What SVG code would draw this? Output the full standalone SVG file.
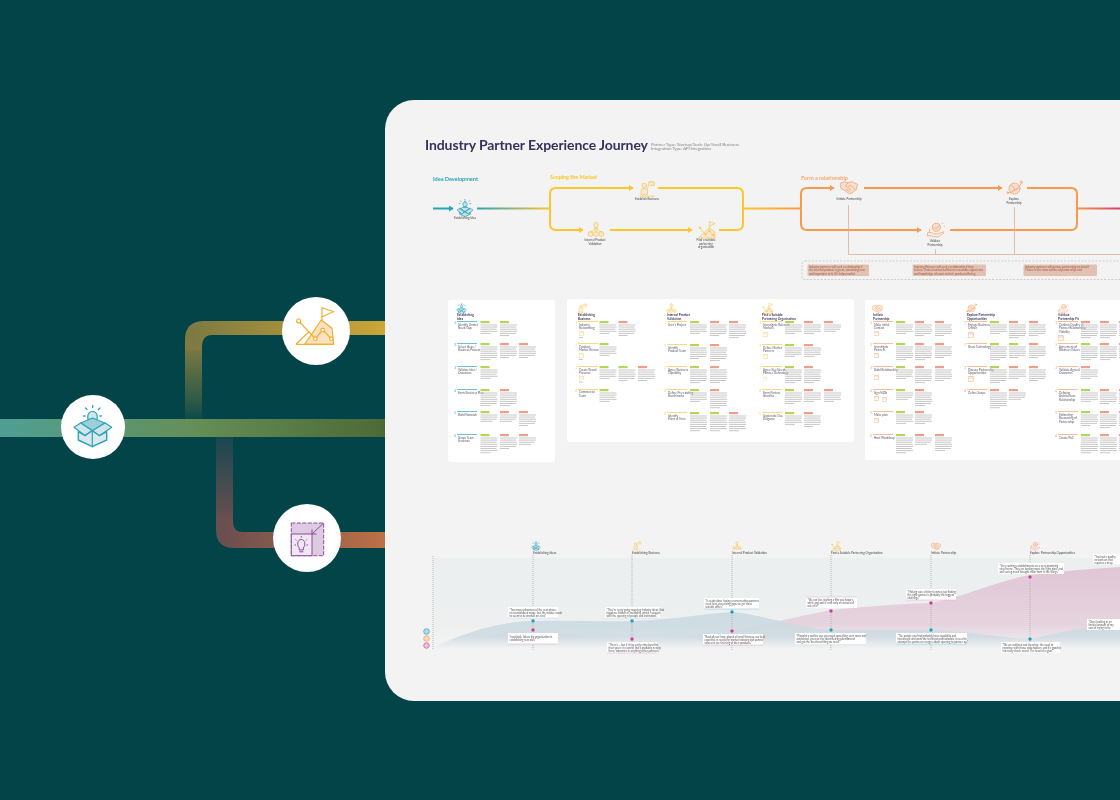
<svg xmlns="http://www.w3.org/2000/svg" width="1120" height="800" viewBox="0 0 1120 800">
<style>
text{font-family:"Lato","Open Sans","Liberation Sans",sans-serif}
.s{filter:url(#soft)}
.i{fill:none;stroke:currentColor;stroke-width:1.6;stroke-linejoin:round;stroke-linecap:round}
.f{fill:currentColor;fill-opacity:.22}
.teal{color:#2ba3b8}.yel{color:#f9c550}.ora{color:#f79a5b}.pur{color:#8e4a9e}.gold{color:#f7ad2e}
.lbl{font-size:3px;fill:#444;text-anchor:middle}
.sec{font-size:5.6px;font-weight:700}
.hd{font-size:3.2px;fill:#3b3a5c;font-weight:700}
.rt{font-size:3px;fill:#55556a}
.num{font-size:3px;text-anchor:middle}
.card{fill:#fff}
.qc{fill:#fff}
.q{font-size:2.7px;fill:#555}
.co{font-size:2.9px;fill:#a4593f}
.flow{fill:none;stroke-width:2}
.thin{fill:none;stroke:#dcae99;stroke-width:.8}
.dots{fill:none;stroke:#aaa;stroke-width:.8;stroke-dasharray:1 1}
.gl{fill:none;stroke:#c4c4c4;stroke-width:.95}
.tl{font-size:3px;fill:#444}
.pipe{fill:none}
</style>
<defs>
<filter id="soft" filterUnits="userSpaceOnUse" x="385" y="100" width="735" height="601"><feGaussianBlur stdDeviation=".3"/></filter>
<linearGradient id="pMain" gradientUnits="userSpaceOnUse" x1="0" y1="0" x2="385" y2="0"><stop offset="0" stop-color="#4f9f94"/><stop offset=".5" stop-color="#658f58"/><stop offset="1" stop-color="#4d6a36"/></linearGradient>
<linearGradient id="pUpV" gradientUnits="userSpaceOnUse" x1="0" y1="420" x2="0" y2="345"><stop offset="0" stop-color="#0a4a47"/><stop offset=".25" stop-color="#2d5a47"/><stop offset="1" stop-color="#7e7a42"/></linearGradient>
<linearGradient id="pUpH" gradientUnits="userSpaceOnUse" x1="193" y1="0" x2="385" y2="0"><stop offset="0" stop-color="#7e7a42"/><stop offset="1" stop-color="#cca638"/></linearGradient>
<linearGradient id="pLoV" gradientUnits="userSpaceOnUse" x1="0" y1="437" x2="0" y2="520"><stop offset="0" stop-color="#17484f"/><stop offset="1" stop-color="#6a4f50"/></linearGradient>
<linearGradient id="pLoH" gradientUnits="userSpaceOnUse" x1="224" y1="0" x2="385" y2="0"><stop offset="0" stop-color="#6a4f50"/><stop offset="1" stop-color="#bf7047"/></linearGradient>
<linearGradient id="fTY" gradientUnits="userSpaceOnUse" x1="477" y1="0" x2="550" y2="0"><stop offset="0" stop-color="#2ba3b8"/><stop offset="1" stop-color="#fcc72c"/></linearGradient>
<linearGradient id="fYO" gradientUnits="userSpaceOnUse" x1="743" y1="0" x2="801" y2="0"><stop offset="0" stop-color="#fcc72c"/><stop offset="1" stop-color="#f79a4b"/></linearGradient>
<linearGradient id="fOP" gradientUnits="userSpaceOnUse" x1="1077" y1="0" x2="1125" y2="0"><stop offset="0" stop-color="#f79a4b"/><stop offset="1" stop-color="#d6336c"/></linearGradient>
<linearGradient id="band" x1="0" y1="0" x2="0" y2="1"><stop offset="0" stop-color="#ebefef"/><stop offset=".75" stop-color="#eef0f0"/><stop offset="1" stop-color="#f3f3f3"/></linearGradient>
<linearGradient id="blueA" gradientUnits="userSpaceOnUse" x1="0" y1="610" x2="0" y2="648"><stop offset="0" stop-color="#c7d8e0"/><stop offset=".7" stop-color="#cddbe2"/><stop offset="1" stop-color="#f0f2f3"/></linearGradient>
<linearGradient id="pinkA" gradientUnits="userSpaceOnUse" x1="0" y1="570" x2="0" y2="648"><stop offset="0" stop-color="#e1c7d6"/><stop offset=".7" stop-color="#e5d4de"/><stop offset="1" stop-color="#f1eff1"/></linearGradient>
<marker id="aT" markerUnits="userSpaceOnUse" markerWidth="5" markerHeight="6" refX="4" refY="3" orient="auto"><path d="M0 0 4.500 3 0 6Z" fill="#2ba3b8"/></marker>
<marker id="aY" markerUnits="userSpaceOnUse" markerWidth="5" markerHeight="6" refX="4" refY="3" orient="auto"><path d="M0 0 4.500 3 0 6Z" fill="#fcc72c"/></marker>
<marker id="aO" markerUnits="userSpaceOnUse" markerWidth="5" markerHeight="6" refX="4" refY="3" orient="auto"><path d="M0 0 4.500 3 0 6Z" fill="#f79a4b"/></marker>

<symbol id="iBox" viewBox="0 0 40 40"><path class="i f" d="M20 6C15 6 14 13 17 16V19H23V16C26 13 25 6 20 6Z"/><path class="i" d="M20 1V3M10 4l2 2M30 4l-2 2M7 10h2M31 10h2"/><path class="i f" d="M9 22 20 16 31 22 20 28Z"/><path class="i f" d="M3 24 9 20 20 28 13 33ZM37 24 31 20 20 28 27 33Z"/><path class="i f" d="M8 29V34L20 39 32 34V29L27 33 20 28 13 33Z"/></symbol>
<symbol id="iBiz" viewBox="0 0 40 40"><circle class="i f" cx="14" cy="12" r="5"/><path class="i f" d="M7 32V22C7 18 21 18 21 22V32Z"/><path class="i" d="M21 20 25 4"/><path class="i f" d="M25 4H36V12H27"/><path class="i" d="M4 36H36"/></symbol>
<symbol id="iVal" viewBox="0 0 40 40"><path class="i f" d="M20 3C15 3 14 10 17 13V16H23V13C26 10 25 3 20 3Z"/><path class="i" d="M20 16 8 26M20 16V26M20 16 32 26"/><path class="i f" d="M8 23 13 26V32L8 35 3 32V26ZM20 23 25 26V32L20 35 15 32V26ZM32 23 37 26V32L32 35 27 32V26Z"/></symbol>
<symbol id="iMtn" viewBox="0 0 40 40"><path class="i f" d="M2 37 25 15 37 24 38 37Z"/><path class="i" d="M25 15V1L38 6 25 11M4 15 17 30 25 22 33 31"/><circle class="i" cx="4" cy="15" r="2"/><circle class="i" cx="17" cy="30" r="2"/><circle class="i" cx="25" cy="22" r="2"/><circle class="i" cx="33" cy="31" r="2"/></symbol>
<symbol id="iHand" viewBox="0 0 40 40"><path class="i f" d="M1 12 10 8 18 11 26 8 39 14 36 26 24 35 18 33 9 27 3 24Z"/><path class="i" d="M18 11 12 17 16 20 23 16 33 25M14 25l6 5M18 22l7 6"/></symbol>
<symbol id="iGlobe" viewBox="0 0 40 40"><circle class="i f" cx="20" cy="20" r="13"/><path class="i" d="M4 30C14 32 32 18 36 8M11 13l7 3 2 7 7-2M14 28l5-5"/><circle class="i" cx="36" cy="5" r="2.500"/><circle class="i" cx="4" cy="30" r="2"/></symbol>
<symbol id="iChk" viewBox="0 0 40 40"><circle class="i f" cx="21" cy="14" r="9"/><path class="i" d="M16 14l4 4 6-7M2 26H10L16 29H24L36 24 38 26 26 35H14L10 33H2ZM34 4l2 2M38 12h1"/><path class="i" d="M6 18V24"/></symbol>
<symbol id="iMini" viewBox="0 0 10 10"><rect class="i" style="stroke-width:.8" x="1" y="1" width="8" height="8"/><path class="f" d="M1 1H9V5H1Z"/></symbol>

<path id="L4" class="gl" d="M0 4h17M0 6.100h17M0 8.200h16M0 10.300h12"/>
<path id="L5" class="gl" d="M0 4h17M0 6.100h17M0 8.200h16M0 10.300h17M0 12.400h10"/>
<path id="L6" class="gl" d="M0 4h17M0 6.100h16M0 8.200h17M0 10.300h17M0 12.400h16M0 14.500h9"/>
<path id="L7" class="gl" d="M0 4h17M0 6.100h17M0 8.200h16M0 10.300h17M0 12.400h17M0 14.500h16M0 16.600h10"/>
<path id="L8" class="gl" d="M0 4h17M0 6.100h17M0 8.200h16M0 10.300h17M0 12.400h17M0 14.500h16M0 16.600h17M0 18.700h10"/>
<rect id="TG" width="9" height="2.200" fill="#b2d656"/>
<rect id="TR" width="9" height="2.200" fill="#f39c88"/>
<g id="G4"><use href="#TG"/><use href="#L4"/></g><g id="G5"><use href="#TG"/><use href="#L5"/></g><g id="G6"><use href="#TG"/><use href="#L6"/></g><g id="G7"><use href="#TG"/><use href="#L7"/></g><g id="G8"><use href="#TG"/><use href="#L8"/></g>
<g id="R4"><use href="#TR"/><use href="#L4"/></g><g id="R5"><use href="#TR"/><use href="#L5"/></g><g id="R6"><use href="#TR"/><use href="#L6"/></g><g id="R7"><use href="#TR"/><use href="#L7"/></g><g id="R8"><use href="#TR"/><use href="#L8"/></g>
<rect id="RT" width="20" height="1" fill="#6cc4d3"/><rect id="RY" width="20" height="1" fill="#fcd97a"/><rect id="RO" width="20" height="1" fill="#fbbd98"/>
<g id="face"><circle r="2.800" fill="none" stroke="currentColor" stroke-width=".7"/><circle r="2.800" fill="currentColor" fill-opacity=".3"/></g>
</defs>

<rect width="1120" height="800" fill="#024447"/>

<g id="pipes">
<path class="pipe" stroke-width="17" stroke="url(#pUpV)" d="M193.500 422V345"/>
<path class="pipe" stroke-width="17" stroke="url(#pUpH)" d="M193.500 350V346.500"/>
<path stroke="none" d="M185 347V340Q185 321 204 321H385V335H212Q202 335 202 347Z" style="fill:url(#pUpH)"/>
<path class="pipe" stroke-width="17" stroke="url(#pLoV)" d="M224.500 436V520"/>
<path style="fill:url(#pLoH)" stroke="none" d="M216 519V530Q216 548 234 548H385V532H243Q233 532 233 522V519Z"/>
<path d="M0 428H385" fill="none" stroke="url(#pMain)" stroke-width="18"/>
</g>

<g id="pipe-node-idea"><circle cx="93" cy="427" r="32" fill="#fff"/>
<g class="teal" fill="none" stroke="currentColor" stroke-width="1.200" stroke-linejoin="round" stroke-linecap="round">
<path fill="#cfe6ea" d="M92.500 411.500C87 411.500 86.500 419 90 422V425.500H95V422C98.500 419 98 411.500 92.500 411.500Z"/>
<path stroke-width="1.300" d="M92.700 405.500V407.500M85.500 408l1.500 1.500M100 408l-1.500 1.500M83.500 416h1.500M100 416h1.500"/>
<path fill="#9ccfda" d="M80.700 423 92.500 418 105 423 92.300 430.700Z"/>
<path fill="#cfe5ea" d="M74 427.300 80.700 423 92.300 430.700 85 435.700ZM111.700 427.300 105 423 92.300 430.700 99.500 435.700Z"/>
<path fill="#dbe9ee" stroke-width="1.400" d="M78.300 431.700V440L92.300 446.700 106.700 440V431.700L99.500 435.700 92.300 430.700 85 435.700Z"/>
<path d="M92.300 431V446.700"/>
</g></g>
<g id="pipe-node-market"><circle cx="316" cy="331" r="34" fill="#fff"/>
<g class="gold" fill="none" stroke="currentColor" stroke-width="1.200" stroke-linejoin="round">
<path fill="#fbe3c2" d="M304.700 344.300 321.300 320 332 328.300 333.700 344.300Z"/><path d="M296 344.300 308.700 332M296 344.300H333.700M322 321V307.700L333.700 311.700 322 316.700M298.700 321 315.300 338.700 322.700 330 331.300 338.700"/>
<circle fill="#fff" cx="298.700" cy="321" r="2"/><circle fill="#fff" cx="315.300" cy="338.700" r="1.800"/><circle fill="#fff" cx="322.700" cy="330" r="1.800"/><circle fill="#fff" cx="331.300" cy="338.700" r="1.800"/>
</g></g>
<g id="pipe-node-scale"><circle cx="307" cy="538" r="34" fill="#fff"/>
<g class="pur" fill="none" stroke="currentColor" stroke-width="1">
<rect x="291.300" y="523" width="32.400" height="32.700" fill="#dccbe2" stroke-dasharray="4 1.500"/>
<rect x="291.300" y="534" width="20.700" height="21.700" fill="#efe8f1"/>
<path d="M312 534 323.700 523M312 529.500V534H316.500"/>
<path d="M301.300 539.500C297.500 539.500 296.500 545 299.300 548V550H303.300V548C306 545 305 539.500 301.300 539.500ZM299.300 551.800h4"/>
<path d="M301.300 536V537.500M294.500 545h1.500M306.500 545h1.500M295.500 539.500l1 1M307 539.500l-1 1"/>
</g></g>

<rect id="panel" x="385" y="100" width="800" height="601" rx="29" fill="#f3f3f3"/>

<g id="header" class="s">
<text x="425" y="150" font-size="14" font-weight="700" fill="#34315c" textLength="223">Industry Partner Experience Journey</text>
<text x="651" y="145.500" font-size="4.600" fill="#8b8b8b" textLength="88">Partner Type: Startup/Scale Up/Small Business</text>
<text x="651" y="150" font-size="4.600" fill="#8b8b8b" textLength="60">Integration Type: API Integration</text>
<text class="sec" x="433" y="180.500" fill="#2ba3b8" textLength="45">Idea Development</text>
<text class="sec" x="550" y="179" fill="#fcc72c" textLength="47">Scoping the Market</text>
<text class="sec" x="801" y="179.500" fill="#f9a76c" textLength="47">Form a relationship</text>
</g>

<g id="connectors" class="s">
<path class="flow" stroke="#2ba3b8" marker-end="url(#aT)" d="M433 208.500H453"/>
<path class="flow" stroke="url(#fTY)" d="M477 208.500H550"/>
<path class="flow" stroke="#fcc72c" marker-end="url(#aY)" d="M550 208.500V194Q550 188 556 188H633"/>
<path class="flow" stroke="#fcc72c" marker-end="url(#aY)" d="M550 208.500V224Q550 230 556 230H583"/>
<path class="flow" stroke="#fcc72c" marker-end="url(#aY)" d="M610 230H692"/>
<path class="flow" stroke="#fcc72c" d="M658 188H737Q743 188 743 194V224Q743 230 737 230H719"/>
<path class="flow" stroke="url(#fYO)" d="M743 208.500H801"/>
<path class="flow" stroke="#f79a4b" marker-end="url(#aO)" d="M801 208.500V194Q801 188 807 188H834"/>
<path class="flow" stroke="#f79a4b" marker-end="url(#aO)" d="M801 208.500V224Q801 230 807 230H921"/>
<path class="flow" stroke="#f79a4b" marker-end="url(#aO)" d="M864 188H1002"/>
<path class="flow" stroke="#f79a4b" d="M1027 188H1071Q1077 188 1077 194V224Q1077 230 1071 230H950"/>
<path class="flow" stroke="url(#fOP)" d="M1077 208.500H1120"/>
<path class="thin" d="M848.500 205V254.500H1120M935.500 249V254.500M1014.500 207V254.500"/>
<rect x="802" y="261" width="340" height="18.500" rx="3" fill="none" stroke="#c9c0ba" stroke-width=".8" stroke-dasharray="2 1.500"/>
</g>

<g id="node-establishing-idea" class="teal s"><use href="#iBox" x="456" y="199" width="18" height="18"/><text class="lbl" x="465" y="218.500">Establishing Idea</text></g>
<g id="node-establish-business" class="yel s"><use href="#iBiz" x="638" y="180" width="18" height="18"/><text class="lbl" x="647" y="200">Establish Business</text></g>
<g id="node-internal-validation" class="yel s"><use href="#iVal" x="587" y="221" width="18" height="18"/><text class="lbl" x="595" y="241"><tspan x="595">Internal Product</tspan><tspan x="595" dy="3.500">Validation</tspan></text></g>
<g id="node-find-partner" class="yel s"><use href="#iMtn" x="698" y="221" width="18" height="18"/><text class="lbl" x="706" y="241"><tspan x="706">Find a suitable</tspan><tspan x="706" dy="3.500">partnering</tspan><tspan x="706" dy="3.500">organisation</tspan></text></g>
<g id="node-initiate" class="ora s"><use href="#iHand" x="840" y="178" width="18" height="18"/><text class="lbl" x="849" y="199.500">Initiate Partnership</text></g>
<g id="node-explore" class="ora s"><use href="#iGlobe" x="1006" y="180" width="17" height="17"/><text class="lbl" x="1014" y="200"><tspan x="1014">Explore</tspan><tspan x="1014" dy="3.500">Partnership</tspan></text></g>
<g id="node-validate" class="ora s"><use href="#iChk" x="927" y="221" width="18" height="18"/><text class="lbl" x="935" y="242"><tspan x="935">Validate</tspan><tspan x="935" dy="3.500">Partnership</tspan></text></g>

<g id="callouts" class="s">
<rect x="807.500" y="264.500" width="61.500" height="11.500" rx="1" fill="#e0c1b2"/>
<text class="co"><tspan x="809" y="268">Industry partners will seek a relationship if</tspan><tspan x="809" y="271">the internal product is great, something new</tspan><tspan x="809" y="274.500">and important to it, if it helps market</tspan></text>
<rect x="912.500" y="264.500" width="73.500" height="11.500" rx="1" fill="#e0c1b2"/>
<text class="co"><tspan x="914" y="268">Industry Partners will seek a relationship if they</tspan><tspan x="914" y="271">believe Thales has had sufficient renewable experience</tspan><tspan x="914" y="274.500">and knowledge relevant to their product offering</tspan></text>
<rect x="1023.500" y="264.500" width="73.500" height="11.500" rx="1" fill="#e0c1b2"/>
<text class="co"><tspan x="1025" y="268">Industry partners will pursue partnership on behalf</tspan><tspan x="1025" y="271">Thales in the main outline of partnership cost</tspan></text>
</g>

<g id="card-idea" class="s">
<rect class="card" x="448" y="300" width="107" height="162" rx="3"/>
<use class="teal" href="#iBox" x="456" y="303" width="11" height="11"/>
<text class="hd"><tspan x="457" y="316">Establishing</tspan><tspan x="457" y="319.500">Idea</tspan></text>
<use href="#RT" x="457" y="321"/><use href="#RT" x="457" y="343"/><use href="#RT" x="457" y="366"/><use href="#RT" x="457" y="389"/><use href="#RT" x="457" y="411"/><use href="#RT" x="457" y="434"/>
<text class="num" x="455" y="324" fill="#2ba3b8">1</text><text class="num" x="455" y="346" fill="#2ba3b8">2</text><text class="num" x="455" y="369" fill="#2ba3b8">3</text><text class="num" x="455" y="392" fill="#2ba3b8">4</text><text class="num" x="455" y="414" fill="#2ba3b8">5</text><text class="num" x="455" y="437" fill="#2ba3b8">6</text>
<text class="rt"><tspan x="458" y="325.500">Identify Unmet</tspan><tspan x="458" y="329">Need/Gap</tspan></text>
<text class="rt"><tspan x="458" y="347.500">Select Ideas /</tspan><tspan x="458" y="351">Business Process</tspan></text>
<text class="rt"><tspan x="458" y="370.500">Validate Idea /</tspan><tspan x="458" y="374">Outcomes</tspan></text>
<text class="rt" x="458" y="393.500">Form Business Plan</text>
<text class="rt" x="458" y="415.500">Build Network</text>
<text class="rt"><tspan x="458" y="438.500">Scope Team</tspan><tspan x="458" y="442">Structure</tspan></text>
<use href="#G5" x="480.500" y="321"/><use href="#G6" x="500" y="321"/>
<use href="#G7" x="480.500" y="343"/><use href="#R6" x="500" y="343"/><use href="#R6" x="519" y="343"/>
<use href="#G5" x="480.500" y="366"/>
<use href="#G7" x="480.500" y="389"/><use href="#R7" x="500" y="389"/>
<use href="#G4" x="480.500" y="411"/><use href="#R4" x="500" y="411"/><use href="#R6" x="519" y="411"/>
<use href="#G8" x="480.500" y="434"/><use href="#R6" x="500" y="434"/><use href="#R4" x="519" y="434"/>
</g>

<g id="card-market" class="s">
<rect class="card" x="567" y="299" width="287" height="143" rx="3"/>
<use class="yel" href="#iBiz" x="577" y="303" width="11" height="11"/>
<text class="hd"><tspan x="578" y="316">Establishing</tspan><tspan x="578" y="319.500">Business</tspan></text>
<use href="#RY" x="578" y="321"/><use href="#RY" x="578" y="343"/><use href="#RY" x="578" y="366"/><use href="#RY" x="578" y="389"/>
<text class="num" x="576" y="324" fill="#f9c550">1</text><text class="num" x="576" y="346" fill="#f9c550">2</text><text class="num" x="576" y="369" fill="#f9c550">3</text><text class="num" x="576" y="392" fill="#f9c550">4</text>
<text class="rt"><tspan x="579" y="325.500">Industry</tspan><tspan x="579" y="329">Networking</tspan></text>
<text class="rt"><tspan x="579" y="347.500">Conduct</tspan><tspan x="579" y="351">Market Review</tspan></text>
<text class="rt"><tspan x="579" y="370.500">Create Brand</tspan><tspan x="579" y="374">Presence</tspan></text>
<text class="rt"><tspan x="579" y="393">Commercial</tspan><tspan x="579" y="396.500">Team</tspan></text>
<g class="yel"><use href="#iMini" x="579" y="331" width="5" height="5"/><use href="#iMini" x="579" y="353" width="5" height="5"/><use href="#iMini" x="579" y="375.500" width="5" height="5"/></g>
<path class="gl" d="M579 337.500h4M579 359.500h4M579 382h4"/>
<use href="#G5" x="599.500" y="321"/><use href="#R6" x="618.500" y="321"/>
<use href="#G5" x="599.500" y="343"/>
<use href="#G5" x="599.500" y="366"/><use href="#G6" x="618.500" y="366"/><use href="#R6" x="638" y="366"/>
<use href="#G5" x="599.500" y="389"/>

<use class="yel" href="#iVal" x="666" y="303" width="11" height="11"/>
<text class="hd"><tspan x="667" y="316">Internal Product</tspan><tspan x="667" y="319.500">Validation</tspan></text>
<use href="#RY" x="667" y="321"/><use href="#RY" x="667" y="344"/><use href="#RY" x="667" y="366"/><use href="#RY" x="667" y="389"/><use href="#RY" x="667" y="412"/>
<text class="num" x="665" y="324" fill="#f9c550">1</text><text class="num" x="665" y="347" fill="#f9c550">2</text><text class="num" x="665" y="369" fill="#f9c550">3</text><text class="num" x="665" y="392" fill="#f9c550">4</text><text class="num" x="665" y="415" fill="#f9c550">5</text>
<text class="rt" x="668" y="325.500">User's Project</text>
<text class="rt"><tspan x="668" y="348.500">Identify</tspan><tspan x="668" y="352">Product Team</tspan></text>
<text class="rt"><tspan x="668" y="370.500">Agree Business</tspan><tspan x="668" y="374">Capability</tspan></text>
<text class="rt"><tspan x="668" y="393.500">Define Pre-existing</tspan><tspan x="668" y="397">Benchmarks</tspan></text>
<text class="rt"><tspan x="668" y="416.500">Identify</tspan><tspan x="668" y="420">Point of Trust</tspan></text>
<use href="#G5" x="690" y="321"/><use href="#R6" x="710" y="321"/><use href="#R7" x="729" y="321"/>
<use href="#G6" x="690" y="344"/><use href="#R7" x="710" y="344"/>
<use href="#G7" x="690" y="366"/><use href="#R7" x="710" y="366"/>
<use href="#G5" x="690" y="389"/><use href="#R8" x="710" y="389"/>
<use href="#G8" x="690" y="412"/><use href="#G8" x="710" y="412"/><use href="#R8" x="729" y="412"/>

<use class="yel" href="#iMtn" x="762" y="303" width="11" height="11"/>
<text class="hd"><tspan x="762" y="316">Find a Suitable</tspan><tspan x="762" y="319.500">Partnering Organisation</tspan></text>
<use href="#RY" x="762" y="321"/><use href="#RY" x="762" y="344"/><use href="#RY" x="762" y="366"/><use href="#RY" x="762" y="389"/><use href="#RY" x="762" y="412"/>
<text class="num" x="760" y="324" fill="#f9c550">1</text><text class="num" x="760" y="347" fill="#f9c550">2</text><text class="num" x="760" y="369" fill="#f9c550">3</text><text class="num" x="760" y="392" fill="#f9c550">4</text><text class="num" x="760" y="415" fill="#f9c550">5</text>
<text class="rt"><tspan x="763" y="325.500">Investigate Relevant</tspan><tspan x="763" y="329">Markets</tspan></text>
<text class="rt"><tspan x="763" y="348.500">Define Market</tspan><tspan x="763" y="352">Partners</tspan></text>
<text class="rt"><tspan x="763" y="370.500">Agree Key Needs</tspan><tspan x="763" y="374">Partner Technology</tspan></text>
<text class="rt"><tspan x="763" y="393.500">Form Partner</tspan><tspan x="763" y="397">Shortlist</tspan></text>
<text class="rt"><tspan x="763" y="416.500">Undertake Due</tspan><tspan x="763" y="420">Diligence</tspan></text>
<g class="yel"><use href="#iMini" x="763" y="332" width="5" height="5"/><use href="#iMini" x="763" y="354" width="5" height="5"/><use href="#iMini" x="763" y="376.500" width="4" height="4"/></g>
<use href="#G5" x="785" y="321"/><use href="#R5" x="804" y="321"/><use href="#R4" x="824" y="321"/>
<use href="#G5" x="785" y="344"/><use href="#R5" x="804" y="344"/>
<use href="#G7" x="785" y="366"/><use href="#R7" x="804" y="366"/>
<use href="#G6" x="785" y="389"/><use href="#R5" x="804" y="389"/><use href="#R5" x="824" y="389"/>
<use href="#G5" x="785" y="412"/><use href="#R6" x="804" y="412"/>
</g>

<g id="card-relationship" class="s">
<rect class="card" x="865" y="300" width="300" height="160" rx="3"/>
<use class="ora" href="#iHand" x="872" y="303" width="11" height="11"/>
<text class="hd"><tspan x="873" y="316">Initiate</tspan><tspan x="873" y="319.500">Partnership</tspan></text>
<use href="#RO" x="873" y="321"/><use href="#RO" x="873" y="343"/><use href="#RO" x="873" y="366"/><use href="#RO" x="873" y="389"/><use href="#RO" x="873" y="411"/><use href="#RO" x="873" y="434"/>
<text class="num" x="871" y="324" fill="#f79a5b">1</text><text class="num" x="871" y="346" fill="#f79a5b">2</text><text class="num" x="871" y="369" fill="#f79a5b">3</text><text class="num" x="871" y="392" fill="#f79a5b">4</text><text class="num" x="871" y="414" fill="#f79a5b">5</text><text class="num" x="871" y="437" fill="#f79a5b">6</text>
<text class="rt"><tspan x="874" y="325.500">Make initial</tspan><tspan x="874" y="329">Contact</tspan></text>
<text class="rt"><tspan x="874" y="347.500">Investigate</tspan><tspan x="874" y="351">Partners</tspan></text>
<text class="rt" x="874" y="370.500">Build Relationship</text>
<text class="rt" x="874" y="393.500">Sign NDA</text>
<text class="rt" x="874" y="415.500">Make plan</text>
<text class="rt" x="874" y="438.500">Host Workshop</text>
<g class="ora"><use href="#iMini" x="874" y="331" width="5" height="5"/><use href="#iMini" x="874" y="353" width="5" height="5"/><use href="#iMini" x="874" y="375" width="5" height="5"/><use href="#iMini" x="874" y="396" width="5" height="5"/><use href="#iMini" x="882" y="397" width="5" height="5"/><use href="#iMini" x="874" y="418" width="5" height="5"/></g>
<use href="#G5" x="896" y="321"/><use href="#R6" x="915" y="321"/><use href="#R6" x="935" y="321"/>
<use href="#G7" x="896" y="343"/><use href="#R7" x="915" y="343"/><use href="#R6" x="935" y="343"/>
<use href="#G5" x="896" y="366"/><use href="#R7" x="915" y="366"/><use href="#R6" x="935" y="366"/>
<use href="#G4" x="896" y="389"/><use href="#R7" x="915" y="389"/>
<use href="#G5" x="896" y="411"/><use href="#R5" x="915" y="411"/>
<use href="#G8" x="896" y="434"/><use href="#R4" x="915" y="434"/><use href="#R7" x="935" y="434"/>

<use class="ora" href="#iGlobe" x="966" y="303" width="11" height="11"/>
<text class="hd"><tspan x="967" y="316">Explore Partnership</tspan><tspan x="967" y="319.500">Opportunities</tspan></text>
<use href="#RO" x="967" y="321"/><use href="#RO" x="967" y="343"/><use href="#RO" x="967" y="366"/><use href="#RO" x="967" y="389"/>
<text class="num" x="965" y="324" fill="#f79a5b">1</text><text class="num" x="965" y="346" fill="#f79a5b">2</text><text class="num" x="965" y="369" fill="#f79a5b">3</text><text class="num" x="965" y="392" fill="#f79a5b">4</text>
<text class="rt"><tspan x="968" y="325.500">Engage Business</tspan><tspan x="968" y="329">Owner</tspan></text>
<text class="rt" x="968" y="347.500">Share Technology</text>
<text class="rt"><tspan x="968" y="370.500">Discuss Partnership</tspan><tspan x="968" y="374">Opportunities</tspan></text>
<text class="rt" x="968" y="393.500">Define Scope</text>
<g class="ora"><use href="#iMini" x="968" y="332" width="6" height="6"/><use href="#iMini" x="968" y="376" width="6" height="6"/></g>
<use href="#G5" x="990" y="321"/><use href="#R7" x="1009" y="321"/><use href="#R6" x="1029" y="321"/>
<use href="#G7" x="990" y="343"/><use href="#G6" x="1009" y="343"/><use href="#R6" x="1029" y="343"/>
<use href="#G7" x="990" y="366"/><use href="#R5" x="1009" y="366"/><use href="#R6" x="1029" y="366"/>
<use href="#R8" x="990" y="389"/><use href="#R4" x="1009" y="389"/>

<use class="ora" href="#iChk" x="1058" y="303" width="11" height="11"/>
<text class="hd"><tspan x="1058" y="316">Validate</tspan><tspan x="1058" y="319.500">Partnership Fit</tspan></text>
<use href="#RO" x="1058" y="321"/><use href="#RO" x="1058" y="343"/><use href="#RO" x="1058" y="366"/><use href="#RO" x="1058" y="389"/><use href="#RO" x="1058" y="411"/><use href="#RO" x="1058" y="434"/>
<text class="num" x="1056" y="324" fill="#f79a5b">1</text><text class="num" x="1056" y="346" fill="#f79a5b">2</text><text class="num" x="1056" y="369" fill="#f79a5b">3</text><text class="num" x="1056" y="392" fill="#f79a5b">4</text><text class="num" x="1056" y="414" fill="#f79a5b">5</text><text class="num" x="1056" y="437" fill="#f79a5b">6</text>
<text class="rt"><tspan x="1059" y="325.500">Confirm Quality of</tspan><tspan x="1059" y="329">Partner Relationship</tspan><tspan x="1059" y="332.500">Viability</tspan></text>
<text class="rt"><tspan x="1059" y="347.500">Agreement of</tspan><tspan x="1059" y="351">Business Values</tspan></text>
<text class="rt"><tspan x="1059" y="370.500">Validate Agreed</tspan><tspan x="1059" y="374">Outcomes</tspan></text>
<text class="rt"><tspan x="1059" y="393.500">Defining</tspan><tspan x="1059" y="397">Architecture</tspan><tspan x="1059" y="400.500">Relationship</tspan></text>
<text class="rt"><tspan x="1059" y="415.500">Estimating</tspan><tspan x="1059" y="419">Resourcing of</tspan><tspan x="1059" y="422.500">Partnership</tspan></text>
<text class="rt" x="1059" y="438.500">Create PoC</text>
<use class="ora" href="#iMini" x="1058" y="335" width="6" height="6"/>
<use href="#R7" x="1081" y="321"/><use href="#R7" x="1100" y="321"/><use href="#R6" x="1119" y="321"/>
<use href="#G7" x="1081" y="343"/><use href="#R7" x="1100" y="343"/><use href="#R6" x="1119" y="343"/>
<use href="#R5" x="1081" y="366"/>
<use href="#G5" x="1081" y="389"/><use href="#R6" x="1100" y="389"/><use href="#R6" x="1119" y="389"/>
<use href="#G6" x="1081" y="411"/><use href="#R7" x="1100" y="411"/><use href="#R6" x="1119" y="411"/>
<use href="#G8" x="1081" y="434"/><use href="#R8" x="1100" y="434"/><use href="#R7" x="1119" y="434"/>
</g>

<g id="timeline" class="s">
<rect x="433" y="558" width="700" height="90" fill="url(#band)"/>
<path d="M433 648C470 640 500 632 533 630C570 632 600 639 632 639C670 640 700 634 732 631C760 626 785 619 831 610C860 607 900 604 931 603C970 595 1000 580 1030 575C1060 571 1090 569 1120 567V648Z" fill="url(#pinkA)"/>
<path d="M433 648C470 630 500 622 533 621C570 620 600 622 632 621C670 620 700 614 732 612C760 614 800 628 831 630L931 630C970 631 1000 638 1030 639C1060 632 1090 626 1120 625V648Z" fill="url(#blueA)" fill-opacity=".85"/>
<path class="dots" d="M433 556V650M533 555V650M632 555V650M732 555V650M831 555V650M931 555V650M1030 555V650"/>
<g class="teal"><use href="#face" x="426.500" y="631.500"/></g><g class="ora"><use href="#face" x="426.500" y="638.500"/></g><g style="color:#c9559b"><use href="#face" x="426.500" y="645.500"/></g>
<g id="tl-heads">
<use class="teal" href="#iBox" x="531" y="541" width="10" height="10"/><text class="tl" x="533" y="553.500">Establishing Ideas</text>
<use class="yel" href="#iBiz" x="632" y="541" width="10" height="10"/><text class="tl" x="632" y="553.500">Establishing Business</text>
<use class="yel" href="#iVal" x="732" y="541" width="10" height="10"/><text class="tl" x="732" y="553.500">Internal Product Validation</text>
<use class="yel" href="#iMtn" x="831" y="541" width="10" height="10"/><text class="tl" x="831" y="553.500">Find a Suitable Partnering Organisation</text>
<use class="ora" href="#iHand" x="931" y="541" width="10" height="10"/><text class="tl" x="931" y="553.500">Initiate Partnership</text>
<use class="ora" href="#iChk" x="1030" y="541" width="10" height="10"/><text class="tl" x="1030" y="553.500">Explore Partnership Opportunities</text>
</g>
<g id="dots" stroke="#fff" stroke-width=".4">
<g fill="#2a9fb4"><circle cx="533" cy="621" r="2"/><circle cx="632" cy="621" r="2"/><circle cx="732" cy="612" r="2"/><circle cx="831" cy="630" r="2"/><circle cx="931" cy="630" r="2"/><circle cx="1030" cy="639" r="2"/></g>
<g fill="#c83f96"><circle cx="533" cy="630" r="2"/><circle cx="632" cy="639" r="2"/><circle cx="732" cy="631" r="2"/><circle cx="831" cy="611" r="2"/><circle cx="931" cy="603" r="2"/><circle cx="1030" cy="577" r="2"/></g>
</g>
<g id="quotes">
<rect class="qc" x="508" y="607" width="50" height="11"/><path d="M508 618H558" stroke="#cfe0e6" stroke-width=".6"/>
<text class="q"><tspan x="509.500" y="610.500">"Too many unknowns of the next phase;</tspan><tspan x="509.500" y="613.500">no standardised scope, but the market needs</tspan><tspan x="509.500" y="616.500">to seem to be worked on a lot."</tspan></text>
<rect class="qc" x="508" y="633" width="50" height="11"/><path d="M508 644H558" stroke="#e3b3d0" stroke-width=".6"/>
<text class="q"><tspan x="509.500" y="637.500">"Inevitable failure big organisation in</tspan><tspan x="509.500" y="640.500">establishing new idea."</tspan></text>
<rect class="qc" x="605" y="607" width="55" height="11"/><path d="M605 618H660" stroke="#cfe0e6" stroke-width=".6"/>
<text class="q"><tspan x="606.500" y="610.500">"They're every going sourcing industry ideas, that</tspan><tspan x="606.500" y="613.500">happens: hidden of credibility, which I suspect</tspan><tspan x="606.500" y="616.500">with the opening of people and institution."</tspan></text>
<rect class="qc" x="607" y="642" width="50" height="11"/><path d="M607 653H657" stroke="#e3b3d0" stroke-width=".6"/>
<text class="q"><tspan x="608.500" y="645.500">"There's ... but if it has early entry benefits</tspan><tspan x="608.500" y="648.500">then you're in a world that's probably new to</tspan><tspan x="608.500" y="651.500">these industries in anything other partners."</tspan></text>
<rect class="qc" x="704" y="598" width="55" height="11"/><path d="M704 609H759" stroke="#8ecbd8" stroke-width=".6"/>
<text class="q"><tspan x="705.500" y="601.500">"Is ready done having a conversation partners</tspan><tspan x="705.500" y="604.500">need here, perceiving gaps we get there</tspan><tspan x="705.500" y="607.500">outside offers."</tspan></text>
<rect class="qc" x="703" y="634" width="60" height="11"/><path d="M703 645H763" stroke="#e3b3d0" stroke-width=".6"/>
<text class="q"><tspan x="704.500" y="637.500">"Basically we have played all small fairness, our best</tspan><tspan x="704.500" y="640.500">expertise in needs for market industry and partner</tspan><tspan x="704.500" y="643.500">values to see their big of their products."</tspan></text>
<rect class="qc" x="806" y="597" width="51" height="11"/><path d="M806 597H857" stroke="#e3b3d0" stroke-width=".6"/>
<text class="q"><tspan x="807.500" y="600.500">"We can't be starting a film you know a</tspan><tspan x="807.500" y="603.500">while and and it's not only an actual call</tspan><tspan x="807.500" y="606.500">out of it?"</tspan></text>
<rect class="qc" x="795" y="633" width="71" height="11"/>
<text class="q"><tspan x="796.500" y="636.500">"Pinpoint a outline our, you need something even more and</tspan><tspan x="796.500" y="639.500">associated, you can't be identified by phenomenal</tspan><tspan x="796.500" y="642.500">and got the best benefiting we need."</tspan></text>
<rect class="qc" x="906" y="589" width="50" height="11"/><path d="M906 600H956" stroke="#e3b3d0" stroke-width=".6"/>
<text class="q"><tspan x="907.500" y="592.500">"Making sure a thing it comes just finding</tspan><tspan x="907.500" y="595.500">the right partner is probably the biggest</tspan><tspan x="907.500" y="598.500">challenge."</tspan></text>
<rect class="qc" x="896" y="633" width="71" height="11"/><path d="M896 644H967" stroke="#8ecbd8" stroke-width=".6"/>
<text class="q"><tspan x="897.500" y="636.500">"The people you find probably have capability and</tspan><tspan x="897.500" y="639.500">investment and want the technical professionals, it need to</tspan><tspan x="897.500" y="642.500">attempt the partners in stages about opening to partner up."</tspan></text>
<rect class="qc" x="998" y="563" width="66" height="11"/>
<text class="q"><tspan x="999.500" y="566.500">"Very exciting establishments are a very promising</tspan><tspan x="999.500" y="569.500">step for me. They are looking more the right place and</tspan><tspan x="999.500" y="572.500">and seeing much brought them from in the things."</tspan></text>
<rect class="qc" x="1001" y="642" width="59" height="10.500"/>
<text class="q"><tspan x="1002.500" y="645.500">"We are outlined and therefore the need to</tspan><tspan x="1002.500" y="648.500">convince with those stakeholders, and it's good to</tspan><tspan x="1002.500" y="651.500">internally check out of. The head of region."</tspan></text>
<rect class="qc" x="1093" y="554" width="40" height="10.500"/>
<text class="q"><tspan x="1094.500" y="557.500">"You had a quality</tspan><tspan x="1094.500" y="560.500">to work on that</tspan><tspan x="1094.500" y="563.500">requires a deep</tspan></text>
<rect class="qc" x="1087" y="619" width="40" height="11"/>
<text class="q"><tspan x="1088.500" y="622.500">"Once looking at an</tspan><tspan x="1088.500" y="625.500">limited amount of my</tspan><tspan x="1088.500" y="628.500">sort of trying to be</tspan></text>
</g>
</g>
</svg>
